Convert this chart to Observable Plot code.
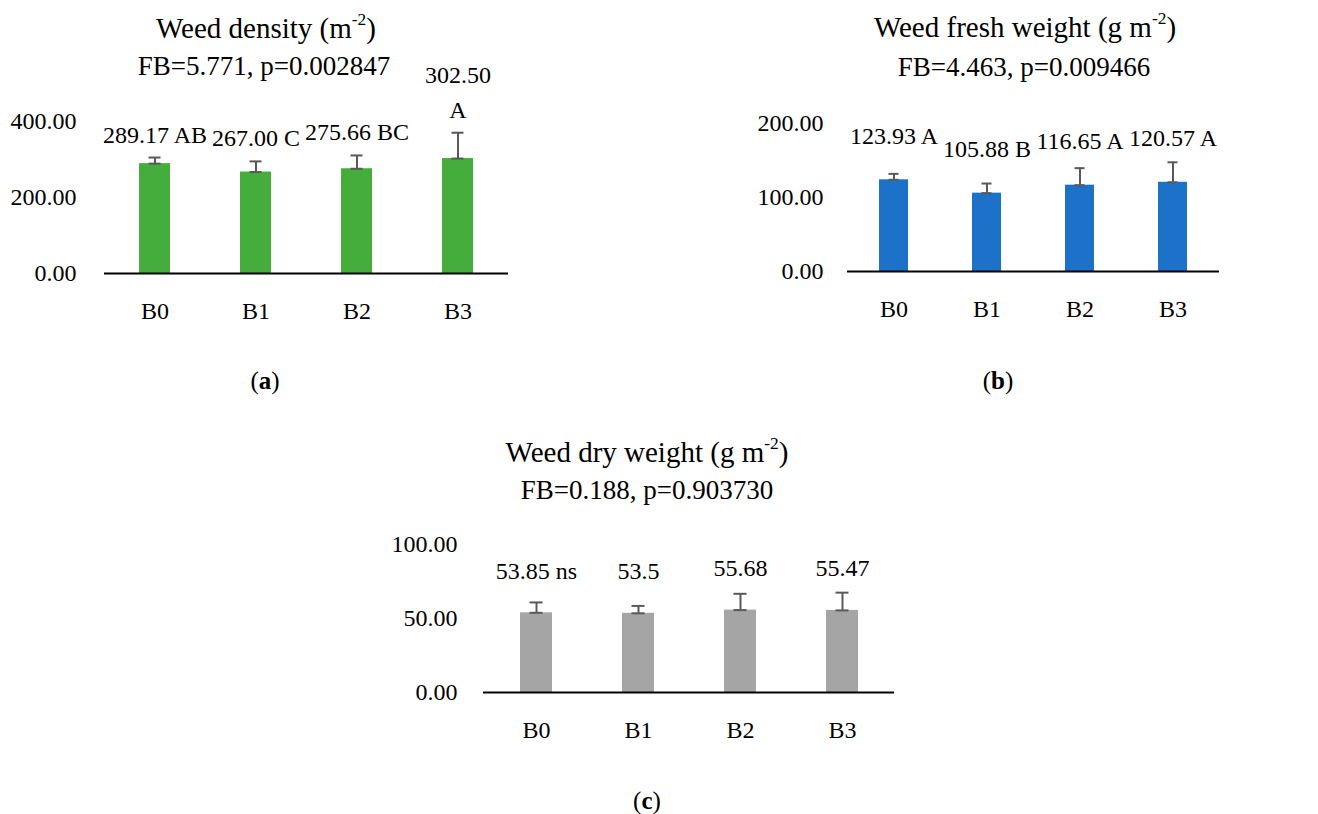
<!DOCTYPE html>
<html><head><meta charset="utf-8">
<script src="https://cdn.jsdelivr.net/npm/d3@7"></script>
<script src="https://cdn.jsdelivr.net/npm/@observablehq/plot@0.6"></script>
<style>
html,body{margin:0;padding:0;background:#fff;}
body{width:1318px;height:814px;position:relative;overflow:hidden;font-family:"Liberation Serif",serif;}
.panel{position:absolute;z-index:1;}
.t{position:absolute;text-align:center;white-space:nowrap;color:#000;z-index:2;}
.t sup{font-size:0.6em;line-height:0;vertical-align:0.75em;}
</style></head><body>
<script>
// ---------- data ----------
const categories = ["B0", "B1", "B2", "B3"];

const densityMean = [289.17, 267.00, 275.66, 302.50];
const densityErr = [16, 28, 35, 68];
const densityLabels = ["289.17 AB", "267.00 C", "275.66 BC", "302.50\nA"];
const densityTicks = [0, 200, 400];

const freshMean = [123.93, 105.88, 116.65, 120.57];
const freshErr = [8, 13, 23, 27];
const freshLabels = ["123.93 A", "105.88 B", "116.65 A", "120.57 A"];
const freshTicks = [0, 100, 200];

const dryMean = [53.85, 53.5, 55.68, 55.47];
const dryErr = [7, 5, 11, 12];
const dryLabels = ["53.85 ns", "53.5", "55.68", "55.47"];
const dryTicks = [0, 50, 100];

const titles = [
  {title: "Weed density (m<sup>-2</sup>)", sub: "FB=5.771, p=0.002847", tag: "a"},
  {title: "Weed fresh weight (g m<sup>-2</sup>)", sub: "FB=4.463, p=0.009466", tag: "b"},
  {title: "Weed dry weight (g m<sup>-2</sup>)", sub: "FB=0.188, p=0.903730", tag: "c"}
];

// ---------- helpers ----------
function makeRows(means, errs, labels) {
  return categories.map((c, i) => ({cat: c, v: means[i], e: errs[i], top: means[i] + errs[i], label: labels[i]}));
}

function panel(o) {
  const rows = makeRows(o.means, o.errs, o.labels);
  const capInset = 9.5;
  const chart = Plot.plot({
    width: o.width, height: o.height,
    marginLeft: o.ml, marginRight: o.mr, marginTop: o.mt, marginBottom: o.mb,
    style: {fontFamily: "'Liberation Serif', serif", fontSize: "24px", background: "transparent", overflow: "visible", color: "#000"},
    x: {domain: categories, paddingInner: 0.69, paddingOuter: 0.345, tickSize: 0, tickPadding: 28, label: null},
    y: {domain: [0, o.yMax], ticks: o.ticks, tickFormat: d3.format(".2f"), tickSize: 0, tickPadding: o.yPad, label: null},
    marks: [
      Plot.barY(rows, {x: "cat", y: "v", fill: o.color}),
      Plot.ruleX(rows, {x: "cat", y1: "v", y2: "top", stroke: "#595959", strokeWidth: 2}),
      Plot.tickY(rows, {x: "cat", y: "top", stroke: "#595959", strokeWidth: 2, insetLeft: capInset, insetRight: capInset}),
      Plot.tickY(rows, {x: "cat", y: "v", stroke: "#595959", strokeWidth: 2, insetLeft: capInset, insetRight: capInset}),
      Plot.ruleY([0], {stroke: "#000", strokeWidth: 2}),
      Plot.text(rows, {x: "cat", y: o.labelOnErr ? "top" : "v", text: "label", lineAnchor: "bottom",
        dy: o.labelDy, lineHeight: 1.45, fill: "#000", fontSize: 24})
    ]
  });
  const div = document.createElement("div");
  div.className = "panel";
  div.style.left = o.left + "px";
  div.style.top = o.top + "px";
  div.appendChild(chart);
  document.body.appendChild(div);
}

function addText(html, cx, cy, size) {
  const h = Math.round(size * 1.4);
  const d = document.createElement("div");
  d.className = "t";
  d.style.left = (cx - 300) + "px";
  d.style.width = "600px";
  d.style.top = (cy - h / 2) + "px";
  d.style.height = h + "px";
  d.style.lineHeight = h + "px";
  d.style.fontSize = size + "px";
  d.innerHTML = html;
  document.body.appendChild(d);
}

// ---------- panels ----------
panel({means: densityMean, errs: densityErr, labels: densityLabels, color: "#44AD3B",
  yMax: 400, ticks: densityTicks, left: 0, top: 40, width: 530, height: 300,
  ml: 104, mr: 22, mt: 81, mb: 67, yPad: 28, labelOnErr: true, labelDy: -15});
panel({means: freshMean, errs: freshErr, labels: freshLabels, color: "#1C71C8",
  yMax: 200, ticks: freshTicks, left: 720, top: 40, width: 598, height: 300,
  ml: 127, mr: 99, mt: 83, mb: 69, yPad: 24, labelOnErr: false, labelDy: -36});
panel({means: dryMean, errs: dryErr, labels: dryLabels, color: "#A5A5A5",
  yMax: 100, ticks: dryTicks, left: 380, top: 520, width: 540, height: 240,
  ml: 103, mr: 26, mt: 24, mb: 68, yPad: 26, labelOnErr: false, labelDy: -34});

// ---------- titles ----------
addText(titles[0].title, 266, 28, 29);
addText(titles[0].sub, 264, 66, 27);
addText("(<b>" + titles[0].tag + "</b>)", 265, 380, 25);

addText(titles[1].title, 1025, 27, 29);
addText(titles[1].sub, 1024, 67, 27);
addText("(<b>" + titles[1].tag + "</b>)", 998, 380, 25);

addText(titles[2].title, 647, 452, 29);
addText(titles[2].sub, 647, 490, 27);
addText("(<b>" + titles[2].tag + "</b>)", 647, 800, 25);
</script>
</body></html>
